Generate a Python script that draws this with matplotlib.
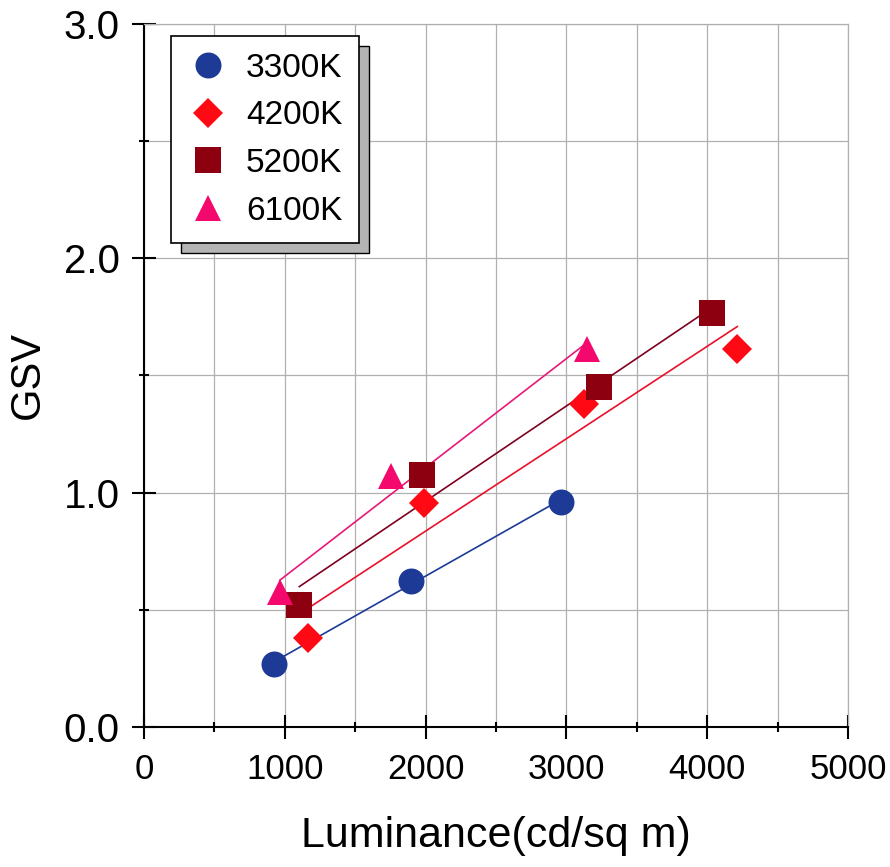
import numpy as np
import matplotlib
matplotlib.use("Agg")
import matplotlib.pyplot as plt
from matplotlib.ticker import MultipleLocator

# Data
lum_3300 = [921, 1894, 2959]
gsv_3300 = [0.269, 0.624, 0.962]

lum_4200 = [1162, 1991, 3127, 4214]
gsv_4200 = [0.381, 0.955, 1.379, 1.612]

lum_5200 = [1103, 1977, 3234, 4036]
gsv_5200 = [0.519, 1.074, 1.450, 1.766]

lum_6100 = [966, 1754, 3148]
gsv_6100 = [0.576, 1.073, 1.612]

labels = ["3300K", "4200K", "5200K", "6100K"]

plt.rcParams["font.family"] = ["Liberation Sans", "DejaVu Sans"]

fig = plt.figure(figsize=(8.9, 8.67), dpi=100)
ax = fig.add_axes([0.1618, 0.1615, 0.7910, 0.8108])

series = [
    (lum_3300, gsv_3300, "o", 18.7, "#1c3a96", "#1c3a96"),
    (lum_4200, gsv_4200, "D", 15.3, "#ff0a14", "#e8102a"),
    (lum_5200, gsv_5200, "s", 19.4, "#8c0010", "#800020"),
    (lum_6100, gsv_6100, "^", 19.4, "#f5086e", "#e8187a"),
]

# linear fits under the markers
for (x, y, m, ms, c, lc), lab in zip(series, labels):
    k, b = np.polyfit(x, y, 1)
    xs = np.array([min(x), max(x)])
    ax.plot(xs, k * xs + b, color=lc, lw=1.2, zorder=3)

for (x, y, m, ms, c, lc), lab in zip(series, labels):
    ax.plot(x, y, linestyle="none", marker=m, markersize=ms, color=c,
            markeredgewidth=0, label=lab, zorder=4)

ax.set_xlim(0, 5000)
ax.set_ylim(0, 3.0)
ax.xaxis.set_major_locator(MultipleLocator(1000))
ax.xaxis.set_minor_locator(MultipleLocator(500))
ax.yaxis.set_major_locator(MultipleLocator(1.0))
ax.yaxis.set_minor_locator(MultipleLocator(0.5))
ax.yaxis.set_major_formatter(matplotlib.ticker.FormatStrFormatter("%.1f"))

ax.grid(which="both", color="#b0b0b0", lw=0.9)
ax.set_axisbelow(True)

ax.tick_params(which="major", direction="inout", length=17, width=1.5, pad=9)
ax.tick_params(which="minor", direction="inout", length=7, width=1.5)
ax.tick_params(axis="y", labelsize=29)
ax.tick_params(axis="x", labelsize=25, pad=10)

for s in ["left", "bottom"]:
    ax.spines[s].set_linewidth(1.5)
for s in ["top", "right"]:
    ax.spines[s].set_color("#b0b0b0")
    ax.spines[s].set_linewidth(0.9)

ax.set_xlabel("Luminance(cd/sq m)", fontsize=31, labelpad=22)
ax.set_ylabel("GSV", fontsize=30, labelpad=11)

leg = ax.legend(loc="upper left", bbox_to_anchor=(0.0384, 0.983),
                borderaxespad=0, fontsize=24, fancybox=False,
                edgecolor="black", framealpha=1, markerscale=1.0,
                handlelength=1.2, handletextpad=0.55, labelspacing=0.5,
                borderpad=0.5,
                shadow={"ox": 7.2, "oy": -7.2, "facecolor": "#b4b4b4",
                        "edgecolor": "black", "alpha": 1, "lw": 1})
leg.get_frame().set_linewidth(1.2)

fig.savefig("out.png", dpi=100)
